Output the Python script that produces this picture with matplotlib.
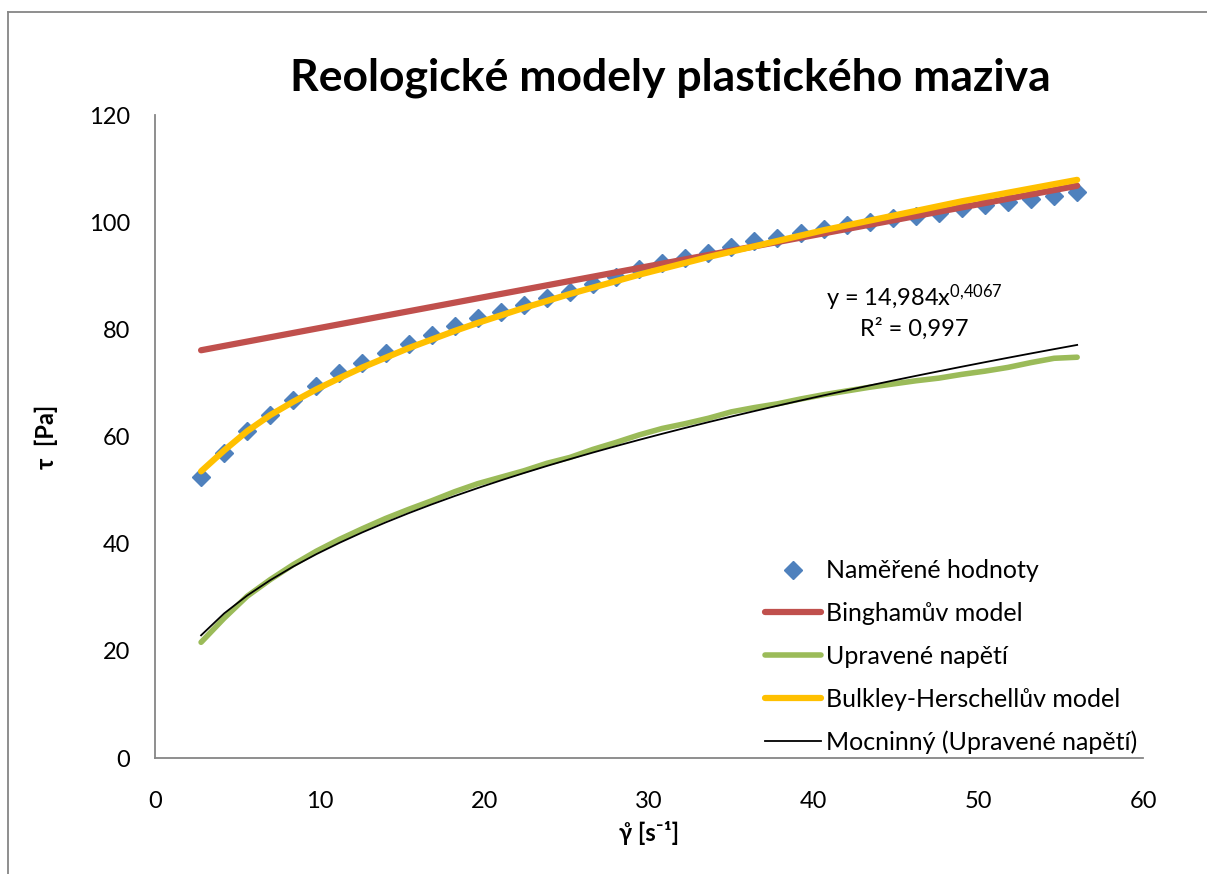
import matplotlib
matplotlib.use("Agg")
import matplotlib.pyplot as plt
from matplotlib.lines import Line2D
import numpy as np

plt.rcParams['font.family'] = ['Lato', 'DejaVu Sans']
plt.rcParams['mathtext.fontset'] = 'custom'
plt.rcParams['mathtext.rm'] = 'Lato'
plt.rcParams['mathtext.it'] = 'Lato:italic'
plt.rcParams['mathtext.bf'] = 'Lato:bold'

# shear rate [1/s]
gamma = [2.8, 4.2, 5.6, 7.0, 8.4, 9.8, 11.2, 12.6, 14.0, 15.4, 16.8, 18.2, 19.6,
         21.0, 22.4, 23.8, 25.2, 26.6, 28.0, 29.4, 30.8, 32.2, 33.6, 35.0, 36.4,
         37.8, 39.2, 40.6, 42.0, 43.4, 44.8, 46.2, 47.6, 49.0, 50.4, 51.8, 53.2,
         54.6, 56.0]
# measured shear stress [Pa]
tau_meas = [52.5, 57.0, 61.1, 64.1, 66.9, 69.4, 71.8, 73.7, 75.6, 77.3, 78.9, 80.6,
            82.1, 83.3, 84.5, 85.9, 87.0, 88.5, 89.8, 91.2, 92.4, 93.3, 94.2, 95.4,
            96.4, 97.0, 98.0, 98.7, 99.5, 100.1, 100.7, 101.2, 101.8, 102.6, 103.2,
            103.8, 104.3, 104.9, 105.7]
# adjusted stress (yield stress removed)
tau_adj = [21.6, 26.1, 30.2, 33.3, 36.1, 38.6, 40.8, 42.8, 44.7, 46.4, 48.0, 49.7,
           51.2, 52.4, 53.6, 55.0, 56.1, 57.6, 58.9, 60.3, 61.5, 62.4, 63.4, 64.6,
           65.4, 66.1, 67.0, 67.8, 68.5, 69.2, 69.8, 70.4, 70.9, 71.6, 72.2, 72.9,
           73.8, 74.6, 74.8]
# Herschel-Bulkley model curve
tau_hb = [53.5, 57.4, 61.0, 64.0, 66.5, 68.8, 70.9, 72.9, 74.7, 76.5, 78.1, 79.7,
          81.2, 82.6, 84.0, 85.3, 86.6, 87.8, 89.0, 90.2, 91.3, 92.4, 93.5, 94.5,
          95.5, 96.5, 97.5, 98.5, 99.4, 100.3, 101.2, 102.1, 103.0, 103.9, 104.7,
          105.5, 106.3, 107.1, 107.9]
# Bingham model (straight line) end points
bingham_x = [2.8, 56.0]
bingham_y = [76.1, 106.8]

# power trendline of adjusted stress
b, log_a = np.polyfit(np.log(gamma), np.log(tau_adj), 1)
trend_y = np.exp(log_a) * np.array(gamma) ** b

fig = plt.figure(figsize=(12.07, 8.74), dpi=100)
ax = fig.add_axes([0.1284, 0.1327, 0.8186, 0.7357])

ax.plot(gamma, tau_meas, linestyle='none', marker='D', markersize=9.5,
        color='#4F81BD', label='Naměřené hodnoty', zorder=2)
ax.plot(bingham_x, bingham_y, color='#C0504D', lw=4.5, solid_capstyle='round',
        label='Binghamův model', zorder=3)
ax.plot(gamma, tau_adj, color='#9BBB59', lw=4, solid_capstyle='round',
        solid_joinstyle='round', label='Upravené napětí', zorder=3)
ax.plot(gamma, tau_hb, color='#FFC000', lw=4.5, solid_capstyle='round',
        solid_joinstyle='round', label='Bulkley-Herschellův model', zorder=4)
ax.plot(gamma, trend_y, color='black', lw=1.3,
        label='Mocninný (Upravené napětí)', zorder=5)

ax.set_xlim(0, 60)
ax.set_ylim(0, 120)
ax.set_xticks(range(0, 61, 10))
ax.set_yticks(range(0, 121, 20))
ax.tick_params(length=0, labelsize=17)
ax.tick_params(axis='x', pad=24)
ax.tick_params(axis='y', pad=18)
for s in ['top', 'right']:
    ax.spines[s].set_visible(False)
for s in ['left', 'bottom']:
    ax.spines[s].set_color('#868686')
    ax.spines[s].set_linewidth(1.3)

ax.set_xlabel('γ̊ [s⁻¹]', fontsize=17, fontweight='bold', labelpad=6)
ax.set_ylabel('τ  [Pa]', fontsize=17, fontweight='bold', labelpad=22)

ax.text(46.1, 83.4, 'y = 14,984x$^{0{,}4067}$\nR² = 0,997', ha='center',
        va='center', fontsize=17, linespacing=1.25)

fig.text(0.555, 0.911, 'Reologické modely plastického maziva', ha='center',
         va='center', fontsize=32, fontweight='bold')

ax.legend(loc='upper left', bbox_to_anchor=(0.617, 0.309), frameon=False,
          fontsize=18, borderpad=0, borderaxespad=0, handlelength=2.24,
          handletextpad=0.2, labelspacing=0.79, numpoints=1)

# chart area border (left and top edges visible)
fig.add_artist(Line2D([8 / 1207, 8 / 1207], [0, 1 - 12 / 874],
                      transform=fig.transFigure, color='#868686', lw=1.3))
fig.add_artist(Line2D([8 / 1207, 1], [1 - 12 / 874, 1 - 12 / 874],
                      transform=fig.transFigure, color='#868686', lw=1.3))

fig.savefig('out.png', dpi=100)
